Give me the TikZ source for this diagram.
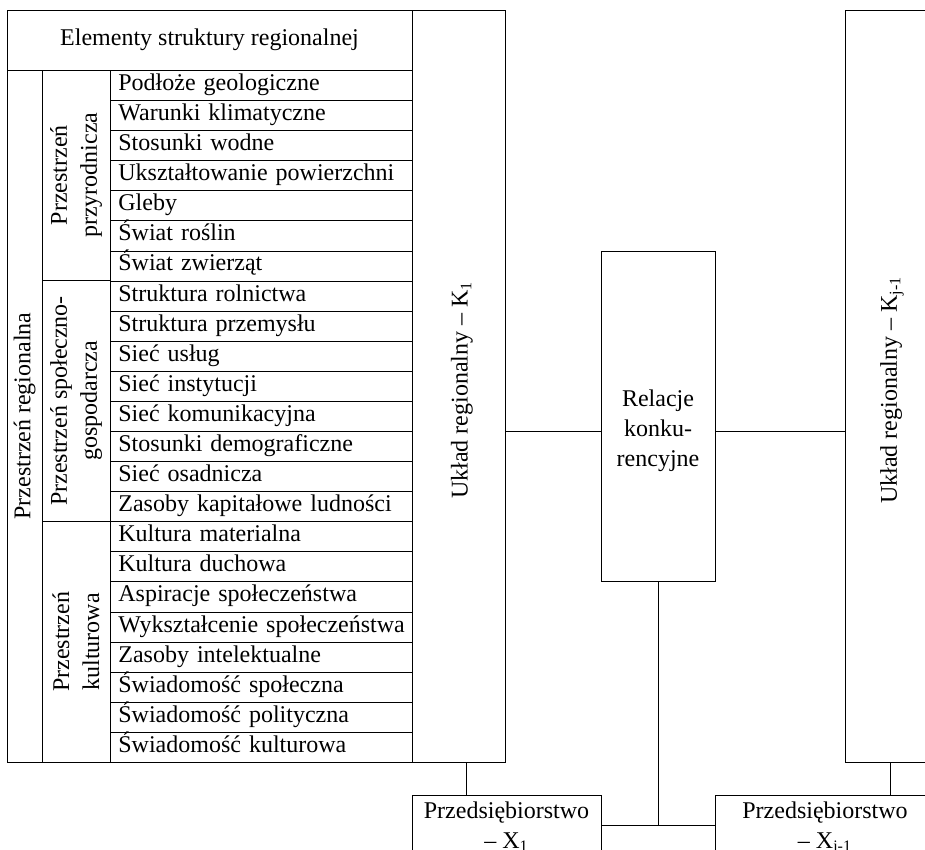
\documentclass[tikz,border=0pt]{standalone}
\usepackage{fontspec}
\setmainfont{Liberation Serif}
\usetikzlibrary{calc}
\begin{document}
\begin{tikzpicture}[x=.5pt, y=-.5pt,
  every node/.style={font=\fontsize{12}{15}\selectfont},
  ramka/.style={draw, inner sep=0pt},
  wiersz/.style={draw, anchor=north west, minimum width=151pt, minimum height=15.04pt,
    text width=143pt, text height=8pt, text depth=3pt, inner xsep=4pt, inner ysep=0pt, align=left},
  pion/.style={rotate=90, align=center, inner sep=0pt},
  firma/.style={draw, anchor=north, align=center, inner xsep=0pt, inner ysep=3pt}]
\useasboundingbox (0,0) rectangle (925,850);
\clip (0,0) rectangle (925,850);
\node[ramka, minimum width=202.5pt, minimum height=30pt] (naglowek) at (209.5,40) {Elementy struktury regionalnej};
\foreach \t [count=\i from 0] in {Podłoże geologiczne, Warunki klimatyczne, Stosunki wodne,
  Ukształtowanie powierzchni, Gleby, Świat roślin, Świat zwierząt,
  Struktura rolnictwa, Struktura przemysłu, Sieć usług, Sieć instytucji,
  Sieć komunikacyjna, Stosunki demograficzne, Sieć osadnicza, Zasoby kapitałowe ludności,
  Kultura materialna, Kultura duchowa, Aspiracje społeczeństwa, Wykształcenie społeczeństwa,
  Zasoby intelektualne, Świadomość społeczna, Świadomość polityczna, Świadomość kulturowa}
  \node[wiersz] (w\i) at (110,70+30.087*\i) {\mbox{\t}};
\node[ramka, minimum width=17.5pt, minimum height=346pt] (region) at (24.5,416) {};
\node[pion] (regiontxt) at (region) {Przestrzeń regionalna};
\node[ramka, minimum width=34pt, minimum height=105.3pt] (przyr) at (76,175.3) {};
\node[pion] (przyrtxt) at (przyr) {Przestrzeń\\przyrodnicza};
\node[ramka, minimum width=34pt, minimum height=120.35pt] (spol) at (76,401) {};
\node[pion] (spoltxt) at (spol) {Przestrzeń społeczno-\\gospodarcza};
\node[ramka, minimum width=34pt, minimum height=120.35pt] (kult) at (76,641.7) {};
\node[pion] (kulttxt) at (kult) {Przestrzeń\\kulturowa};
\node[ramka, minimum width=46.5pt, minimum height=376pt] (k1) at (458.5,386) {};
\node[pion] (k1txt) at (462,390) {Układ regionalny – K\textsubscript{1}};
\node[ramka, minimum width=46.5pt, minimum height=376pt] (kj) at (891.5,386) {};
\node[pion] (kjtxt) at (892,390) {Układ regionalny – K\textsubscript{j-1}};
\node[ramka, minimum width=57pt, minimum height=165pt] (rel) at (658,416) {};
\node[align=center] (reltxt) at (658,431) {Relacje\\konku-\\rencyjne};
\node[firma, minimum width=94.5pt] (p1) at (506.5,795) {Przedsiębiorstwo\\– X\textsubscript{1}};
\node[firma, minimum width=110pt] (p2) at (825,795) {Przedsiębiorstwo\\– X\textsubscript{i-1}};
\coordinate (s1) at (466,0);
\coordinate (s2) at (890,0);
\coordinate (styk) at (0,825);
\draw (k1.east |- reltxt) -- (rel.west |- reltxt);
\draw (rel.east |- reltxt) -- (kj.west |- reltxt);
\draw (k1.south -| s1) -- (p1.north -| s1);
\draw (kj.south -| s2) -- (p2.north -| s2);
\draw (rel.south) -- (rel.south |- styk);
\draw (p1.east |- styk) -- (p2.west |- styk);
\end{tikzpicture}
\end{document}
